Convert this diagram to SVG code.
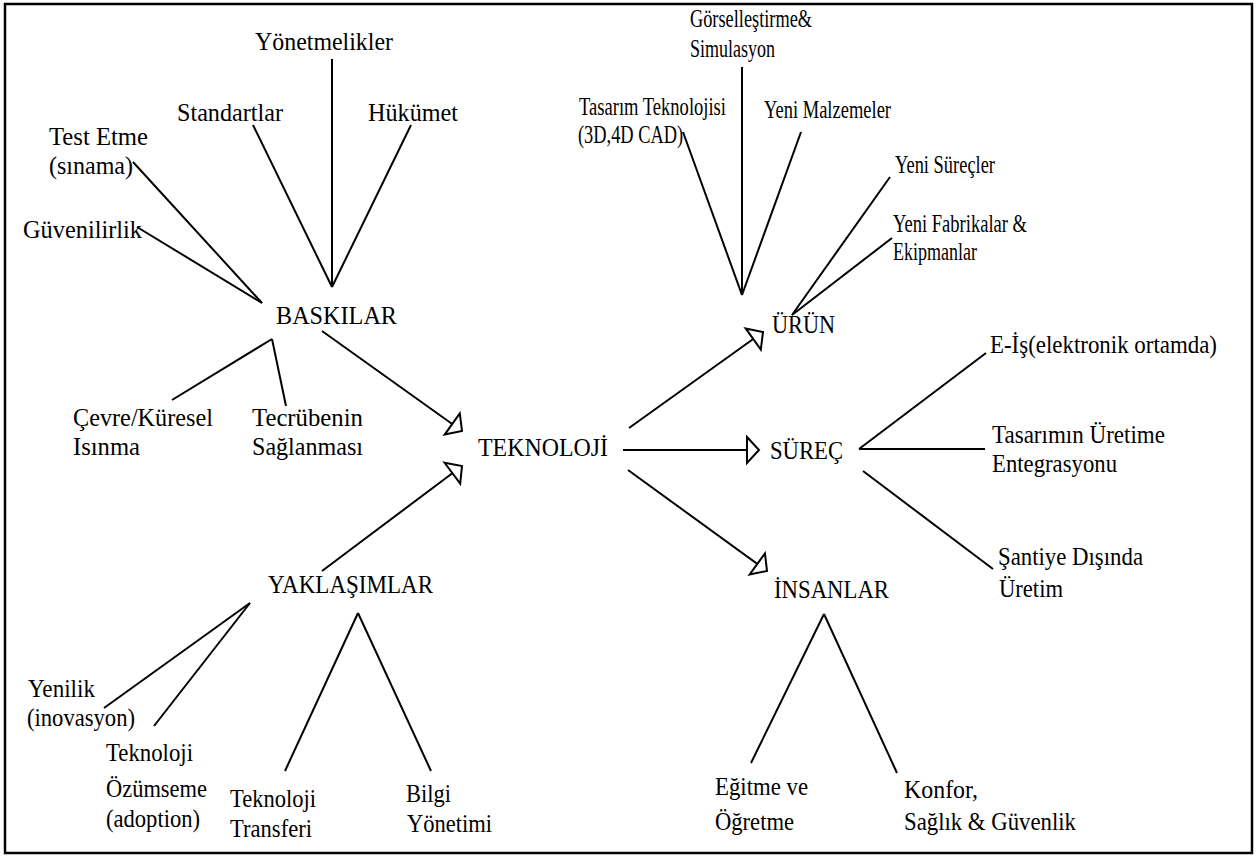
<svg xmlns="http://www.w3.org/2000/svg" width="1257" height="857" viewBox="0 0 1257 857">
<style>
.t text{font-size:26px;fill:#000}
.ln{stroke:#000;stroke-width:2;fill:none}
</style>
<defs>
<marker id="open" markerUnits="userSpaceOnUse" markerWidth="18" markerHeight="32" viewBox="-2 -16 18 32" refX="12" refY="0" orient="auto">
<path d="M0,-13 L12,0 L0,13 Z" fill="#fff" stroke="#000" stroke-width="2"/>
</marker>
</defs>
<rect x="5" y="4" width="1247" height="849" fill="#fff" stroke="#000" stroke-width="2.5"/>
<g id="connectors" class="ln">
<line x1="332" y1="59" x2="332" y2="287"/>
<line x1="253" y1="125" x2="332" y2="287"/>
<line x1="411" y1="125" x2="332" y2="287"/>
<line x1="133" y1="162" x2="262" y2="303"/>
<line x1="137" y1="227" x2="262" y2="303"/>
<line x1="272" y1="339" x2="172" y2="400"/>
<line x1="272" y1="339" x2="286" y2="406"/>
<line x1="250" y1="603" x2="104" y2="708"/>
<line x1="250" y1="603" x2="154" y2="726"/>
<line x1="358" y1="613" x2="285" y2="771"/>
<line x1="358" y1="613" x2="431" y2="771"/>
<line x1="742" y1="67" x2="742" y2="295"/>
<line x1="683" y1="132" x2="742" y2="295"/>
<line x1="801" y1="132" x2="742" y2="295"/>
<line x1="890" y1="177" x2="792" y2="315"/>
<line x1="892" y1="238" x2="792" y2="315"/>
<line x1="859" y1="449" x2="986" y2="353"/>
<line x1="859" y1="449" x2="985" y2="449"/>
<line x1="863" y1="471" x2="993" y2="569"/>
<line x1="824" y1="614" x2="751" y2="763"/>
<line x1="824" y1="614" x2="897" y2="773"/>
<line x1="322" y1="331" x2="462" y2="431" marker-end="url(#open)"/>
<line x1="322" y1="571" x2="462" y2="466" marker-end="url(#open)"/>
<line x1="629" y1="428" x2="763" y2="332" marker-end="url(#open)"/>
<line x1="623" y1="450" x2="759" y2="450" marker-end="url(#open)"/>
<line x1="628" y1="470" x2="767" y2="571" marker-end="url(#open)"/>
</g>
<g class="t" font-family="'Liberation Serif', 'Times New Roman', 'DejaVu Serif', serif" font-size="26">
<g id="teknoloji"><text x="478" y="456" textLength="130" lengthAdjust="spacingAndGlyphs">TEKNOLOJİ</text></g>
<g id="baskilar"><text x="276" y="324" textLength="121" lengthAdjust="spacingAndGlyphs">BASKILAR</text></g>
<g id="yaklasimlar"><text x="268" y="593" textLength="165" lengthAdjust="spacingAndGlyphs">YAKLAŞIMLAR</text></g>
<g id="urun"><text x="772" y="333" textLength="63" lengthAdjust="spacingAndGlyphs">ÜRÜN</text></g>
<g id="surec"><text x="770" y="459" textLength="73" lengthAdjust="spacingAndGlyphs">SÜREÇ</text></g>
<g id="insanlar"><text x="774" y="598" textLength="115" lengthAdjust="spacingAndGlyphs">İNSANLAR</text></g>
<g id="yonetmelikler"><text x="255" y="50" textLength="138" lengthAdjust="spacingAndGlyphs">Yönetmelikler</text></g>
<g id="standartlar"><text x="177" y="121" textLength="106" lengthAdjust="spacingAndGlyphs">Standartlar</text></g>
<g id="hukumet"><text x="368" y="121" textLength="90" lengthAdjust="spacingAndGlyphs">Hükümet</text></g>
<g id="test"><text x="49" y="145" textLength="99" lengthAdjust="spacingAndGlyphs">Test Etme</text><text x="49" y="174" textLength="84" lengthAdjust="spacingAndGlyphs">(sınama)</text></g>
<g id="guvenilirlik"><text x="23" y="238" textLength="119" lengthAdjust="spacingAndGlyphs">Güvenilirlik</text></g>
<g id="cevre"><text x="73" y="426" textLength="140" lengthAdjust="spacingAndGlyphs">Çevre/Küresel</text><text x="73" y="455" textLength="67" lengthAdjust="spacingAndGlyphs">Isınma</text></g>
<g id="tecrube"><text x="252" y="426" textLength="111" lengthAdjust="spacingAndGlyphs">Tecrübenin</text><text x="252" y="455" textLength="111" lengthAdjust="spacingAndGlyphs">Sağlanması</text></g>
<g id="yenilik"><text x="28" y="697" textLength="67" lengthAdjust="spacingAndGlyphs">Yenilik</text><text x="27" y="726" textLength="108" lengthAdjust="spacingAndGlyphs">(inovasyon)</text></g>
<g id="ozumseme"><text x="106" y="761" textLength="87" lengthAdjust="spacingAndGlyphs">Teknoloji</text><text x="106" y="797" textLength="101" lengthAdjust="spacingAndGlyphs">Özümseme</text><text x="106" y="827" textLength="94" lengthAdjust="spacingAndGlyphs">(adoption)</text></g>
<g id="transfer"><text x="230" y="807" textLength="86" lengthAdjust="spacingAndGlyphs">Teknoloji</text><text x="230" y="837" textLength="82" lengthAdjust="spacingAndGlyphs">Transferi</text></g>
<g id="bilgi"><text x="406" y="802" textLength="45" lengthAdjust="spacingAndGlyphs">Bilgi</text><text x="407" y="832" textLength="85" lengthAdjust="spacingAndGlyphs">Yönetimi</text></g>
<g id="gorsel"><text x="690" y="27" textLength="122" lengthAdjust="spacingAndGlyphs">Görselleştirme&amp;</text><text x="690" y="57" textLength="85" lengthAdjust="spacingAndGlyphs">Simulasyon</text></g>
<g id="tasarim"><text transform="translate(579 115) scale(0.7 1)" x="0" y="0" textLength="210" lengthAdjust="spacingAndGlyphs">Tasarım Teknolojisi</text><text x="578" y="143" textLength="105" lengthAdjust="spacingAndGlyphs">(3D,4D CAD)</text></g>
<g id="malzeme"><text x="764" y="118" textLength="127" lengthAdjust="spacingAndGlyphs">Yeni Malzemeler</text></g>
<g id="surecler"><text x="895" y="173" textLength="100" lengthAdjust="spacingAndGlyphs">Yeni Süreçler</text></g>
<g id="fabrika"><text x="893" y="232" textLength="134" lengthAdjust="spacingAndGlyphs">Yeni Fabrikalar &amp;</text><text x="893" y="260" textLength="84" lengthAdjust="spacingAndGlyphs">Ekipmanlar</text></g>
<g id="eis"><text x="990" y="353" textLength="227" lengthAdjust="spacingAndGlyphs">E-İş(elektronik ortamda)</text></g>
<g id="entegrasyon"><text x="992" y="443" textLength="173" lengthAdjust="spacingAndGlyphs">Tasarımın Üretime</text><text x="992" y="472" textLength="125" lengthAdjust="spacingAndGlyphs">Entegrasyonu</text></g>
<g id="santiye"><text x="998" y="565" textLength="145" lengthAdjust="spacingAndGlyphs">Şantiye Dışında</text><text x="999" y="597" textLength="64" lengthAdjust="spacingAndGlyphs">Üretim</text></g>
<g id="egitim"><text x="715" y="795" textLength="93" lengthAdjust="spacingAndGlyphs">Eğitme ve</text><text x="715" y="830" textLength="79" lengthAdjust="spacingAndGlyphs">Öğretme</text></g>
<g id="konfor"><text x="904" y="798" textLength="74" lengthAdjust="spacingAndGlyphs">Konfor,</text><text x="904" y="830" textLength="172" lengthAdjust="spacingAndGlyphs">Sağlık &amp; Güvenlik</text></g>
</g>
</svg>
